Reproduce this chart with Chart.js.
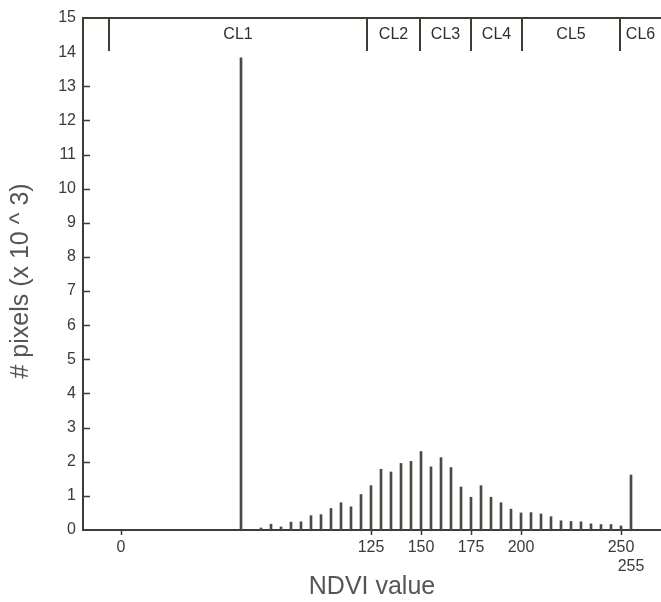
<!DOCTYPE html>
<html>
<head>
<meta charset="utf-8">
<script src="https://cdn.jsdelivr.net/npm/chart.js@4/dist/chart.umd.min.js"></script>
<style>
  html, body { margin: 0; padding: 0; background: #fff; }
  #wrap { width: 661px; height: 602px; }
</style>
</head>
<body>
<div id="wrap"><canvas id="hist"></canvas></div>
<script>
// NDVI bins (x) and pixel counts in thousands (y)
const ndvi = [60, 70, 75, 80, 85, 90, 95, 100, 105, 110, 115, 120, 125, 130, 135, 140, 145, 150,
  155, 160, 165, 170, 175, 180, 185, 190, 195, 200, 205, 210, 215, 220, 225, 230, 235, 240, 245, 250, 255];
const counts = [13.83, 0.06, 0.17, 0.09, 0.23, 0.24, 0.42, 0.45, 0.63, 0.80, 0.68, 1.04, 1.30, 1.78, 1.70, 1.95, 2.01, 2.30,
  1.85, 2.12, 1.83, 1.26, 0.96, 1.30, 0.96, 0.80, 0.61, 0.50, 0.51, 0.47, 0.39, 0.27, 0.25, 0.24, 0.18, 0.16, 0.16, 0.12, 1.61];

const xTicks = [0, 125, 150, 175, 200, 250, 255];
const yTickMarks = [1, 2, 3, 4, 5, 6, 7, 8, 9, 10, 11, 12, 13];

// class boundaries along the top band
const classNames = ['CL1', 'CL2', 'CL3', 'CL4', 'CL5', 'CL6'];
const classBounds = [-6, 123, 149.5, 175, 200.5, 249.5];

const ink = '#3d3d33';
const txt = '#3a3a3a';
const FONT = '"Liberation Sans", Arial, Helvetica, sans-serif';

// top frame line, inward y ticks and the class band
const band = {
  id: 'band',
  afterDraw(chart) {
    const { ctx, chartArea: a, scales: { x, y } } = chart;
    ctx.save();
    ctx.strokeStyle = ink;
    ctx.lineWidth = 2;
    ctx.beginPath();
    ctx.moveTo(a.left - 1, a.top);
    ctx.lineTo(a.right, a.top);
    ctx.stroke();

    ctx.lineWidth = 1.5;
    ctx.beginPath();
    yTickMarks.forEach(v => {
      const py = Math.round(y.getPixelForValue(v)) + 0.5;
      ctx.moveTo(a.left, py);
      ctx.lineTo(a.left + 7, py);
    });
    ctx.stroke();

    ctx.lineWidth = 2;
    ctx.beginPath();
    classBounds.forEach(v => {
      const px = x.getPixelForValue(v);
      ctx.moveTo(px, a.top);
      ctx.lineTo(px, a.top + 33);
    });
    ctx.stroke();

    ctx.fillStyle = '#2e2e2a';
    ctx.font = '16px ' + FONT;
    ctx.textAlign = 'center';
    ctx.textBaseline = 'middle';
    classNames.forEach((name, i) => {
      const x0 = x.getPixelForValue(classBounds[i]);
      const x1 = i + 1 < classBounds.length ? x.getPixelForValue(classBounds[i + 1]) : a.right;
      ctx.fillText(name, (x0 + x1) / 2, a.top + 17);
    });
    ctx.restore();
  }
};

new Chart(document.getElementById('hist'), {
  type: 'bar',
  data: {
    datasets: [{
      data: ndvi.map((v, i) => ({ x: v, y: counts[i] })),
      backgroundColor: '#4a4a44',
      barThickness: 2,
    }],
  },
  options: {
    responsive: true,
    maintainAspectRatio: false,
    animation: false,
    layout: { padding: { top: 18, right: 0, left: 0, bottom: 0 } },
    plugins: { legend: { display: false }, tooltip: { enabled: false } },
    scales: {
      x: {
        type: 'linear',
        min: -19,
        max: 270,
        offset: false,
        afterBuildTicks: s => { s.ticks = xTicks.map(v => ({ value: v })); },
        afterFit: s => { s.height = 72; },
        grid: {
          drawOnChartArea: false,
          offset: false,
          tickLength: 5,
          tickWidth: 1.5,
          tickColor: c => (c.tick && c.tick.value === 255 ? 'rgba(0,0,0,0)' : ink),
        },
        border: { color: ink, width: 2 },
        ticks: {
          autoSkip: false,
          maxRotation: 0,
          padding: 3,
          color: txt,
          font: { family: FONT, size: 16 },
          callback: v => (v === 255 ? ['', '255'] : String(v)),
        },
        title: {
          display: true,
          text: 'NDVI value',
          color: '#555',
          font: { family: FONT, size: 25 },
          padding: { top: 0, bottom: 0 },
        },
      },
      y: {
        min: 0,
        max: 15,
        afterFit: s => { s.width = 83; },
        grid: { display: false, drawTicks: false },
        border: { color: ink, width: 2 },
        ticks: {
          stepSize: 1,
          padding: 7,
          color: txt,
          font: { family: FONT, size: 16 },
        },
        title: {
          display: true,
          text: '# pixels (x 10 ^ 3)  ',
          color: '#555',
          font: { family: FONT, size: 25 },
          padding: { top: 6, bottom: 0 },
        },
      },
    },
  },
  plugins: [band],
});
</script>
</body>
</html>
